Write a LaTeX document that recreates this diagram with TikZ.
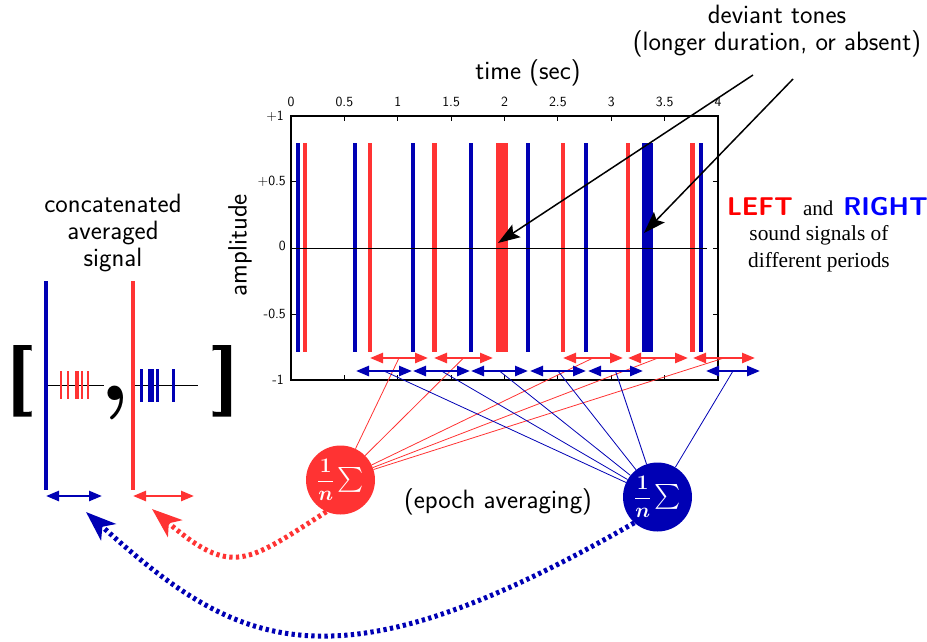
\documentclass[tikz,border=0pt]{standalone}
\usepackage{amsmath}
\usepackage{fontspec}
\newfontfamily\timesf{Liberation Serif}
\usetikzlibrary{arrows.meta,calc}
\definecolor{bred}{RGB}{255,51,51}
\definecolor{bblue}{RGB}{0,0,180}
\definecolor{tred}{RGB}{255,0,0}
\definecolor{tblue}{RGB}{0,0,255}
\tikzset{
  lab/.style={font=\sffamily\fontsize{26.5}{26.8}\selectfont, inner sep=0pt, align=center},
  ticklab/.style={font=\sffamily\fontsize{14}{16}\selectfont, inner sep=0pt},
  harr/.style={line width=2.5pt, {Triangle[length=13pt,width=10pt]}-{Triangle[length=13pt,width=10pt]}},
  fan/.style={line width=0.8pt},
  devarr/.style={line width=1.5pt, -{Stealth[length=22pt,width=15pt,inset=4pt]}},
  dots/.style={line width=5pt, dash pattern=on 3.3pt off 3.3pt, -{Stealth[length=30pt,width=22pt,inset=8pt]}},
  avg/.style={circle, minimum size=69pt, inner sep=0pt, text=white, font=\fontsize{20}{22}\selectfont}
}
\newcommand{\avgtext}{$\displaystyle\frac{\boldsymbol{1}}{\boldsymbol{n}}$\,{\fontsize{25}{27}\selectfont$\sum$}}
\begin{document}
\begin{tikzpicture}[x=1pt,y=-1pt]
\useasboundingbox (0,0) rectangle (927,641);

% ---- plot bars ----
\foreach \c in {297.5,355.3,413,470.5,528,586,701}
  \fill[bblue] (\c-2,143) rectangle (\c+2,352);
\fill[bblue] (642,143) rectangle (653,352);
\foreach \c in {305,370,434.5,563,628,692.5}
  \fill[bred] (\c-2.1,143) rectangle (\c+2.1,352);
\fill[bred] (496,143) rectangle (507.7,352);

% zero line
\draw[line width=0.8pt] (291,248) -- (707,248);

% ---- axes box and ticks ----
\draw[line width=1.5pt] (291,116) rectangle (718,380);
\foreach \i in {1,...,7} {
  \draw[line width=0.8pt] (291+53.375*\i,116) -- ++(0,5);
  \draw[line width=0.8pt] (291+53.375*\i,380) -- ++(0,-5);
}
\foreach \y in {181,248,314} {
  \draw[line width=0.8pt] (291,\y) -- ++(5,0);
  \draw[line width=0.8pt] (718,\y) -- ++(-5,0);
}
\foreach \i/\l in {0/0,1/0.5,2/1,3/1.5,4/2,5/2.5,6/3,7/3.5,8/4}
  \node[ticklab] (xt\i) at (291+53.375*\i,101.7) {\l};
\node[ticklab,anchor=east] (yt1) at (284,116) {+1};
\node[ticklab,anchor=east] (yt2) at (286,181) {+0.5};
\node[ticklab,anchor=east] (yt3) at (286,246) {0};
\node[ticklab,anchor=east] (yt4) at (286,314) {-0.5};
\node[ticklab,anchor=east] (yt5) at (284,380) {-1};

\node[lab] (time) at (528,73) {time (sec)};
\node[lab,rotate=90] (amp) at (240,245) {amplitude};

% ---- annotations ----
\node[lab] (dev) at (777,31) {deviant tones\\(longer duration, or absent)};
\coordinate (d1s) at (753,75);
\coordinate (d1e) at (498,243);
\coordinate (d2s) at (793,79);
\coordinate (d2e) at (644,233);
\draw[devarr] (d1s) -- (d1e);
\draw[devarr] (d2s) -- (d2e);

\node[inner sep=0pt] (lr) at (827.5,207)
  {{\sffamily\bfseries\fontsize{25.7}{28}\selectfont\color{tred}LEFT}\hspace{10pt}{\timesf\fontsize{21}{24}\selectfont and}\hspace{10pt}{\sffamily\bfseries\fontsize{25.7}{28}\selectfont\color{tblue}RIGHT}};
\node[inner sep=0pt, font=\timesf\fontsize{21.4}{27}\selectfont, align=center] (ss) at (819,249) {sound signals of\\different periods};

% ---- averaging circles ----
\node[avg, fill=bred] (rc) at (340.5,480) {\avgtext};
\node[avg, fill=bblue] (bc) at (657.5,497) {\avgtext};
\node[lab] (ep) at (498,502) {(epoch averaging)};

% ---- epoch arrows and fan lines ----
\foreach \a/\b [count=\k] in {370/428,434/493,563/623,628/688,693/755} {
  \coordinate (ra\k) at (\a,358);
  \coordinate (rb\k) at (\b,358);
  \coordinate (rm\k) at ($(ra\k)!0.5!(rb\k)$);
  \draw[fan,bred] (rm\k) -- (rc);
}
\foreach \a/\b [count=\k] in {356/412,413/470,471/528,530/586,588/643,706/760} {
  \coordinate (ba\k) at (\a,371);
  \coordinate (bb\k) at (\b,371);
  \coordinate (bm\k) at ($(ba\k)!0.5!(bb\k)$);
  \draw[fan,bblue] (bm\k) -- (bc);
}
\foreach \k in {1,...,5} \draw[harr,bred] (ra\k) -- (rb\k);
\foreach \k in {1,...,6} \draw[harr,bblue] (ba\k) -- (bb\k);

% ---- concatenated averaged signal ----
\node[lab] (cas) at (113,233) {concatenated\\averaged\\signal};
\draw[line width=0.8pt] (46,385.7) -- (104,385.7);
\draw[line width=0.8pt] (133,385.7) -- (198,385.7);
\draw[bblue, line width=4.2pt] (46,281) -- (46,490);
\draw[bred, line width=4.2pt] (133,281) -- (133,490);
\foreach \c in {60.7,67.7,81.7,88.3}
  \fill[bred] (\c-1.15,371) rectangle (\c+1.15,399);
\fill[bred] (74.5,371) rectangle (78.7,399);
\foreach \c in {141.7,157.5,173.3}
  \fill[bblue] (\c-1.35,369) rectangle (\c+1.35,401.7);
\fill[bblue] (148.1,369) rectangle (153.6,401.7);
% brackets
\fill (13.3,345) -- (31.7,345) -- (31.7,351) -- (30.5,350) -- (23.3,349.8)
  -- (23.3,411.9) -- (30.5,411.7) -- (31.7,410.7) -- (31.7,416.7) -- (13.3,416.7) -- cycle;
\fill (231,345) -- (212.6,345) -- (212.6,351) -- (213.8,350) -- (221,349.8)
  -- (221,411.9) -- (213.8,411.7) -- (212.6,410.7) -- (212.6,416.7) -- (231,416.7) -- cycle;
\node[font=\fontsize{100}{110}\selectfont\bfseries, inner sep=0pt, anchor=base] (cm) at (115,400.6) {,};
\coordinate (la1) at (46,496);
\coordinate (lb1) at (102,496);
\coordinate (la2) at (133,496);
\coordinate (lb2) at (194,496);
\draw[harr,bblue] (la1) -- (lb1);
\draw[harr,bred] (la2) -- (lb2);

% ---- return arrows ----
\coordinate (rtip) at (152,509);
\coordinate (btip) at (86,512);
\draw[dots,bred] (rc.246) .. controls (246,563) and (232,577) .. (rtip);
\draw[dots,bblue] (bc.228) .. controls (330,698) and (236,647) .. (btip);
\end{tikzpicture}
\end{document}
